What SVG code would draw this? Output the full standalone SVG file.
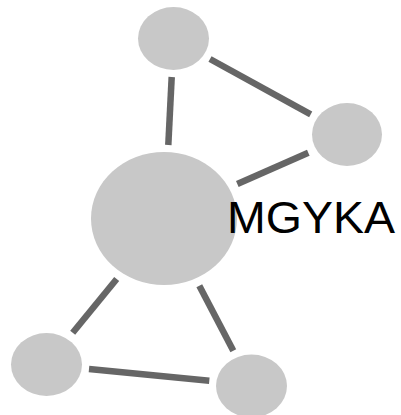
<svg xmlns="http://www.w3.org/2000/svg" width="401" height="415" viewBox="0 0 401 415">
<style>
.node{fill:#c8c8c8}
.edge{stroke:#666;stroke-width:6.5;fill:none}
.label{font-family:"Liberation Sans",Arial,sans-serif;font-size:44px;fill:#000}
</style>
<rect width="401" height="415" fill="#fff"/>
<g id="connectors">
<line class="edge" x1="171.7" y1="77" x2="168.3" y2="145"/>
<line class="edge" x1="210" y1="59" x2="310.7" y2="114.3"/>
<line class="edge" x1="237.3" y1="184" x2="308.3" y2="152.7"/>
<line class="edge" x1="116.7" y1="279" x2="72.7" y2="332.7"/>
<line class="edge" x1="199.3" y1="285.7" x2="233.3" y2="350.7"/>
<line class="edge" x1="89" y1="369" x2="209.3" y2="380.7"/>
</g>
<g id="node-top"><ellipse class="node" cx="173.5" cy="38.5" rx="35.5" ry="31.5"/></g>
<g id="node-right"><ellipse class="node" cx="347" cy="134.5" rx="35" ry="31.5"/></g>
<g id="node-center"><ellipse class="node" cx="164" cy="218.5" rx="73" ry="66.5"/><text class="label" x="227" y="233" textLength="168" lengthAdjust="spacingAndGlyphs">MGYKA</text></g>
<g id="node-bottom-left"><ellipse class="node" cx="46.5" cy="364.5" rx="35.5" ry="31.5"/></g>
<g id="node-bottom-right"><ellipse class="node" cx="251.5" cy="386" rx="35.5" ry="31.5"/></g>
</svg>
